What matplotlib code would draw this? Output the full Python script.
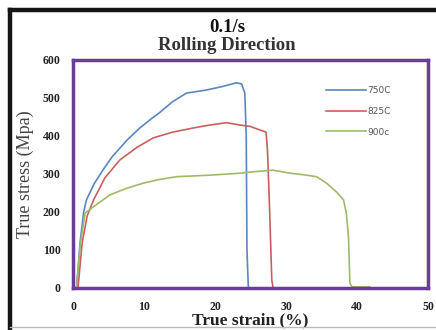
import matplotlib
matplotlib.use("Agg")
import matplotlib.pyplot as plt
from matplotlib.lines import Line2D

# Data
strain_750 = [0.5, 1.0, 1.5, 1.9, 3.0, 4.2, 5.5, 7.6, 9.4, 11.0, 12.3, 14.0, 16.0, 18.8, 21.0, 23.0, 23.75, 24.2, 24.4, 24.5, 24.7]
stress_750 = [0, 120, 200, 232, 275, 310, 345, 389, 421, 445, 463, 490, 513, 521, 530, 540, 537, 513, 400, 100, 0]

strain_825 = [0.7, 1.3, 2.0, 2.9, 4.5, 6.6, 9.0, 11.3, 14.0, 16.9, 19.0, 21.6, 23.5, 25.0, 26.3, 27.2, 27.4, 27.7, 28.0, 28.2]
stress_825 = [0, 120, 190, 232, 290, 337, 370, 395, 410, 421, 428, 435, 429, 425, 416, 410, 360, 200, 20, 0]

strain_900 = [0.5, 1.0, 1.7, 2.9, 5.2, 7.5, 9.9, 12.0, 14.6, 17.0, 19.3, 21.0, 23.5, 25.4, 28.2, 30.6, 32.5, 34.3, 35.7, 37.1, 38.1, 38.5, 38.8, 39.0, 39.3, 41.8]
stress_900 = [0, 110, 197, 214, 245, 262, 276, 285, 293, 295, 297, 299, 302, 306, 310, 302, 298, 293, 276, 253, 232, 197, 135, 13, 3, 3]

labels = ["750C", "825C", "900c"]
colors = ["#5b86c0", "#c8605e", "#9fba6a"]
x_ticks = [0, 10, 20, 30, 40, 50]
y_ticks = [0, 100, 200, 300, 400, 500, 600]

fig = plt.figure(figsize=(4.36, 3.30), dpi=100)
ax = fig.add_axes([73/436, 42/330, 355/436, 228/330])

for xs, ys, c, lab in zip([strain_750, strain_825, strain_900],
                          [stress_750, stress_825, stress_900], colors, labels):
    ax.plot(xs, ys, color=c, lw=1.2, label=lab)

ax.set_xlim(0, 50)
ax.set_ylim(0, 600)
ax.set_xticks(x_ticks)
ax.set_yticks(y_ticks)
ax.tick_params(length=0, pad=9)
for t in ax.get_xticklabels() + ax.get_yticklabels():
    t.set_fontfamily("Liberation Serif")
    t.set_fontweight("bold")
    t.set_fontsize(8.5)
    t.set_color("#222222")
for sp in ax.spines.values():
    sp.set_color("#6a3d9a")
    sp.set_linewidth(2.5)

leg = ax.legend(loc="upper left", bbox_to_anchor=(245/355, 1 - 18/228), frameon=False,
                handlelength=4.4, handletextpad=0.2, labelspacing=1.3,
                prop={"family": "DejaVu Sans", "size": 6.5})
for t in leg.get_texts():
    t.set_color("#555555")

ax.set_xlabel("True strain (%)", fontfamily="Liberation Serif", fontweight="bold",
              fontsize=12.5, color="#222222", labelpad=0)
ax.set_ylabel("True stress (Mpa)", fontfamily="Liberation Serif", fontsize=13,
              color="#444444", labelpad=6)

fig.text(227/436, 1 - 28/330, "0.1/s", ha="center", va="center",
         fontfamily="Liberation Serif", fontweight="bold", fontsize=13.5, color="#111111")
fig.text(227/436, 1 - 46/330, "Rolling Direction", ha="center", va="center",
         fontfamily="Liberation Serif", fontweight="bold", fontsize=13.5, color="#333333")

# outer black frame (left and top) and thin gray bottom line
fig.add_artist(Line2D([10/436, 10/436], [0, 1 - 10/330], color="#151515", lw=3.2,
                      transform=fig.transFigure, solid_capstyle="projecting"))
fig.add_artist(Line2D([10/436, 1], [1 - 10/330, 1 - 10/330], color="#151515", lw=3.2,
                      transform=fig.transFigure, solid_capstyle="projecting"))
fig.add_artist(Line2D([10/436, 1], [3/330, 3/330], color="#bbbbbb", lw=1,
                      transform=fig.transFigure))

fig.savefig("out.png", dpi=100)
